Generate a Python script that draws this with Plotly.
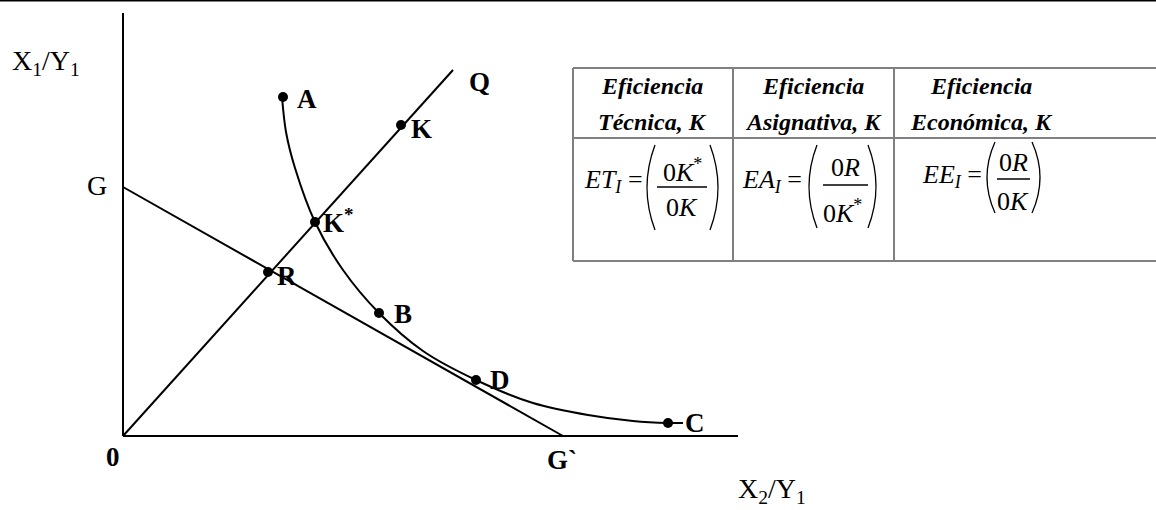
import plotly.graph_objects as go

# ---- data (pixel-derived coordinates, origin at axis corner, y up) ----
curve_x = [159, 163, 172, 192, 220, 256, 300, 353, 410, 465, 510, 545, 560]
curve_y = [339, 304, 268, 214, 166, 123, 85, 56, 33, 21, 15, 13, 13]

point_names = ["A", "K", "K<sup>*</sup>", "R", "B", "D", "C"]
point_x = [160, 278, 192, 145, 256, 353, 545]
point_y = [339, 311, 214, 164, 123, 56, 13]

ray_x = [0, 330]
ray_y = [0, 366]
budget_x = [0, 440]
budget_y = [249, 0]
yaxis_x = [0, 0]
yaxis_y = [0, 423]
xaxis_x = [0, 615]
xaxis_y = [0, 0]

header_lines = [["Eficiencia", "Técnica, K"],
                ["Eficiencia", "Asignativa, K"],
                ["Eficiencia", "Económica, K"]]

W, H = 1156, 510
OX, OY = 123, 436


def X(px):
    return px - OX


def Y(py):
    return OY - py


fig = go.Figure()
line_style = dict(color="black", width=2)
for xs, ys in [(yaxis_x, yaxis_y), (xaxis_x, xaxis_y), (ray_x, ray_y), (budget_x, budget_y)]:
    fig.add_trace(go.Scatter(x=xs, y=ys, mode="lines", line=line_style, hoverinfo="skip"))
fig.add_trace(go.Scatter(x=curve_x, y=curve_y, mode="lines",
                         line=dict(color="black", width=2, shape="spline", smoothing=0.9), hoverinfo="skip"))
fig.add_trace(go.Scatter(x=point_x, y=point_y, mode="markers", marker=dict(color="black", size=10), hoverinfo="skip"))

serif = "Liberation Serif, Times New Roman, serif"
ann = []


def lab(px, py, text, size=27, bold=True, xanchor="left", italic=False):
    t = text
    if bold:
        t = "<b>" + t + "</b>"
    if italic:
        t = "<i>" + t + "</i>"
    ann.append(dict(x=X(px), y=Y(py), xref="x", yref="y", text=t, showarrow=False,
                    xanchor=xanchor, yanchor="middle", font=dict(family=serif, size=size, color="black")))


# point labels
label_pos = [(295, 99), (409, 129), (321, 221), (275, 276), (392, 314), (488, 380), (683, 423)]
for (px, py), name in zip(label_pos, point_names):
    lab(px, py, name)
lab(467, 82, "Q")
lab(85, 185, "G", size=28, bold=False)
lab(10, 62, "X<sub>1</sub>/Y<sub>1</sub>", size=28, bold=False)
lab(104, 457, "0")
lab(545, 460, "G`")
lab(736, 490, "X<sub>2</sub>/Y<sub>1</sub>", size=28, bold=False)

# table headers
col_centers = [652, 813, 981]
for cx, lines in zip(col_centers, header_lines):
    lab(cx, 86, lines[0], size=24, bold=True, italic=True, xanchor="center")
    lab(cx, 122, lines[1], size=24, bold=True, italic=True, xanchor="center")

# formulas
fs = 26
lab(645, 181, "<i>ET</i><sub><i>I</i></sub> =", size=fs, bold=False, xanchor="right")
lab(682, 170, "0<i>K</i><sup>*</sup>", size=fs, bold=False, xanchor="center")
lab(682, 207, "0<i>K</i>", size=fs, bold=False, xanchor="center")

lab(804, 181, "<i>EA</i><sub><i>I</i></sub> =", size=fs, bold=False, xanchor="right")
lab(845, 167, "0<i>R</i>", size=fs, bold=False, xanchor="center")
lab(842, 211, "0<i>K</i><sup>*</sup>", size=fs, bold=False, xanchor="center")

lab(984, 176, "<i>EE</i><sub><i>I</i></sub> =", size=fs, bold=False, xanchor="right")
lab(1013, 162, "0<i>R</i>", size=fs, bold=False, xanchor="center")
lab(1013, 201, "0<i>K</i>", size=fs, bold=False, xanchor="center")

shapes = []
gray = dict(color="#808080", width=2)
# table grid
for x0, y0, x1, y1 in [(573, 68, 1156, 68), (573, 138, 1156, 138), (573, 261, 1156, 261),
                       (573, 68, 573, 261), (733, 68, 733, 261), (894, 68, 894, 261)]:
    shapes.append(dict(type="line", x0=X(x0), y0=Y(y0), x1=X(x1), y1=Y(y1), xref="x", yref="y", line=gray))
# top border of the page
shapes.append(dict(type="line", x0=0, x1=1, y0=0.999, y1=0.999, xref="paper", yref="paper",
                   line=dict(color="black", width=2)))

thin = dict(color="black", width=1.3)
# fraction bars
for x0, x1, y in [(657, 707, 187), (823, 868, 185), (997, 1030, 179)]:
    shapes.append(dict(type="line", x0=X(x0), y0=Y(y), x1=X(x1), y1=Y(y), xref="x", yref="y", line=thin))


def paren(xe, ytop, ybot, bulge):
    ym = (ytop + ybot) / 2
    return dict(type="path", xref="x", yref="y", line=thin,
                path=f"M {X(xe)},{Y(ytop)} Q {X(xe + 2 * bulge)},{Y(ym)} {X(xe)},{Y(ybot)}")


for xl, xr, yt, yb in [(655, 710, 145, 230), (817, 868, 145, 228), (995, 1032, 142, 213)]:
    shapes.append(paren(xl, yt, yb, -8))
    shapes.append(paren(xr, yt, yb, 8))

fig.update_layout(
    width=W, height=H, margin=dict(l=0, r=0, t=0, b=0),
    paper_bgcolor="white", plot_bgcolor="white", showlegend=False,
    xaxis=dict(range=[-OX, W - OX], visible=False, fixedrange=True),
    yaxis=dict(range=[OY - H, OY], visible=False, fixedrange=True),
    annotations=ann, shapes=shapes,
)
fig.write_html("out.html", config={"displayModeBar": False},
               post_script="document.body.style.margin='0';document.body.style.overflow='hidden';")
